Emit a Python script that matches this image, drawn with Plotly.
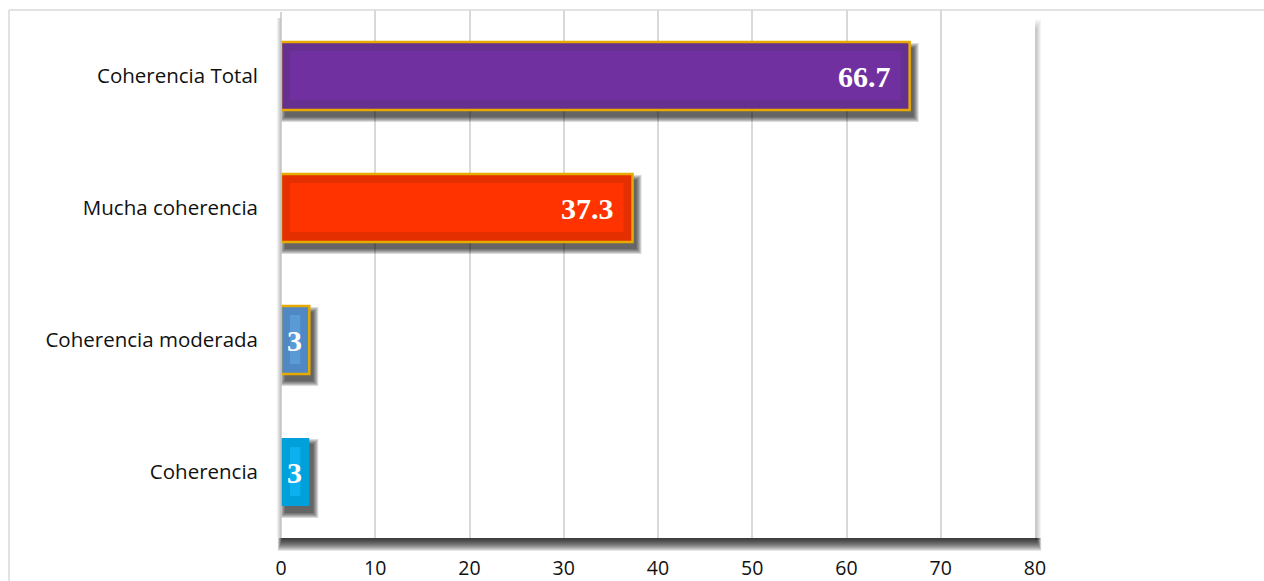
import plotly.graph_objects as go

# Data (bottom-to-top order for a horizontal bar chart)
categories = ["Coherencia", "Coherencia moderada", "Mucha coherencia", "Coherencia Total"]
values = [3, 3, 37.3, 66.7]
x_ticks = [0, 10, 20, 30, 40, 50, 60, 70, 80]

# Styling per bar
frame_colors = ["#00A0DA", "#4F88C5", "#E43000", "#65308F"]
inner_colors = ["#0BB0EE", "#5B9BD5", "#FF3300", "#7030A0"]
outline_colors = ["rgba(0,0,0,0)", "#E8AA00", "#E8AA00", "#E8AA00"]
outline_widths = [0, 2.5, 2.5, 2.5]

W, H = 1264, 581
M_L, M_R, M_T, M_B = 281, 229, 10, 43
PLOT_W = W - M_L - M_R
PLOT_H = H - M_T - M_B
X_MAX = 80
UX = X_MAX / PLOT_W            # data units per pixel (x)
UY = len(categories) / PLOT_H  # category units per pixel (y)
BAR_W = 0.515
LABEL_FONT = "Open Sans"


def px_x(px):
    return (px - M_L) / PLOT_W


def px_y(py):
    return (H - M_B - py) / PLOT_H


shapes = []

# soft drop shadows behind each bar (stacked translucent rects = blur)
for i, v in enumerate(values):
    for grow in range(0, 6):
        shapes.append(dict(
            type="rect", xref="x", yref="y", layer="between",
            x0=(4 - grow) * UX, x1=v + (4 + grow) * UX,
            y0=i - BAR_W / 2 - (7 + grow) * UY, y1=i + BAR_W / 2 - (6 - grow) * UY,
            fillcolor="rgba(0,0,0,0.14)", line=dict(width=0),
        ))

# lighter inner panel of each bar
for i, v in enumerate(values):
    shapes.append(dict(
        type="rect", xref="x", yref="y", layer="above",
        x0=9 * UX, x1=v - 9 * UX,
        y0=i - BAR_W / 2 + 10 * UY, y1=i + BAR_W / 2 - 9 * UY,
        fillcolor=inner_colors[i], line=dict(width=0),
    ))

# plot-area shadow: left edge
for k in range(4):
    shapes.append(dict(type="rect", xref="paper", yref="paper", layer="below",
                       x0=px_x(277 + k), x1=px_x(281), y0=px_y(538), y1=px_y(18),
                       fillcolor="rgba(0,0,0,0.06)", line=dict(width=0)))
# plot-area shadow: right edge
for k in range(5):
    shapes.append(dict(type="rect", xref="paper", yref="paper", layer="below",
                       x0=px_x(M_L + PLOT_W), x1=px_x(M_L + PLOT_W + 6 - k),
                       y0=px_y(540), y1=px_y(20 + 2 * k),
                       fillcolor="rgba(0,0,0,0.045)", line=dict(width=0)))
# plot-area shadow: bottom band (gradient)
for k in range(1, 14):
    shapes.append(dict(type="rect", xref="paper", yref="paper", layer="below",
                       x0=px_x(283 - 0.4 * k), x1=px_x(M_L + PLOT_W + 1 + 0.4 * k),
                       y0=px_y(538 + k), y1=px_y(538),
                       fillcolor="rgba(0,0,0,0.1)", line=dict(width=0)))

# left axis line
shapes.append(dict(type="line", xref="paper", yref="paper", layer="above",
                   x0=0, x1=0, y0=0, y1=px_y(12),
                   line=dict(color="#c4c4c4", width=1.5)))

# outer chart frame (top and left edges)
shapes.append(dict(type="line", xref="paper", yref="paper",
                   x0=px_x(9), x1=px_x(W + 5), y0=px_y(10), y1=px_y(10),
                   line=dict(color="#d9d9d9", width=1.5)))
shapes.append(dict(type="line", xref="paper", yref="paper",
                   x0=px_x(9), x1=px_x(9), y0=px_y(10), y1=px_y(H + 5),
                   line=dict(color="#d9d9d9", width=1.5)))

# value labels
annotations = []
for i, v in enumerate(values):
    wide = v > 10
    annotations.append(dict(
        x=v if wide else v / 2, y=i, xref="x", yref="y",
        text=f"{v:g}", showarrow=False,
        xanchor="right" if wide else "center", yanchor="middle",
        xshift=-17 if wide else -1, yshift=0,
        font=dict(family="Liberation Serif", size=30, color="white", weight="bold"),
    ))

fig = go.Figure(go.Bar(
    x=values, y=categories, orientation="h", width=BAR_W,
    marker=dict(color=frame_colors,
                line=dict(color=outline_colors, width=outline_widths)),
    hoverinfo="skip",
))

fig.update_layout(
    width=W, height=H, autosize=False,
    margin=dict(l=M_L, r=M_R, t=M_T, b=M_B, pad=0),
    paper_bgcolor="white", plot_bgcolor="white",
    showlegend=False, shapes=shapes, annotations=annotations,
    font=dict(family=LABEL_FONT, color="#111111"),
    xaxis=dict(range=[0, X_MAX], tickvals=x_ticks, showgrid=True,
               gridcolor="#d9d9d9", gridwidth=1.5, zeroline=False,
               showline=False, ticks="", ticklabelstandoff=16, automargin=False,
               tickfont=dict(size=19.5, family=LABEL_FONT, color="#111111")),
    yaxis=dict(range=[-0.5, len(categories) - 0.5], showgrid=False,
               zeroline=False, showline=False, ticks="", ticklabelstandoff=22,
               automargin=False,
               tickfont=dict(size=20.5, family=LABEL_FONT, color="#111111")),
)

fig.write_html("out.html")
